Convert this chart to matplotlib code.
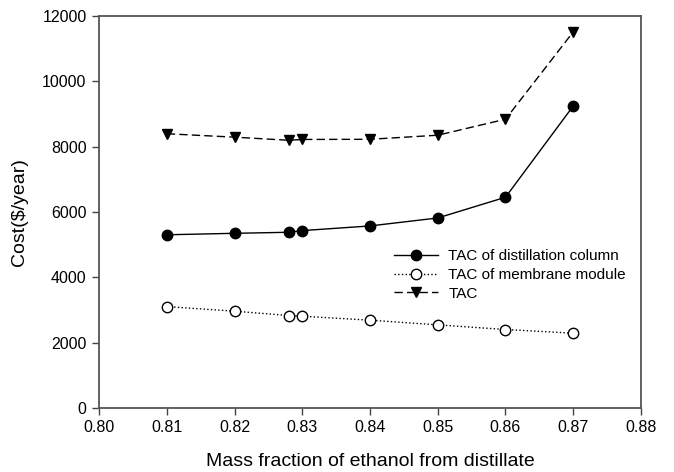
import matplotlib.pyplot as plt

plt.rcParams['font.family'] = ['Liberation Sans', 'DejaVu Sans']

x = [0.81, 0.82, 0.828, 0.83, 0.84, 0.85, 0.86, 0.87]
tac_column = [5300, 5345, 5377, 5428, 5571, 5815, 6450, 9245]
tac_membrane = [3100, 2960, 2826, 2806, 2684, 2541, 2398, 2286]
tac_total = [8395, 8290, 8195, 8220, 8225, 8350, 8840, 11515]

xticks = [0.80, 0.81, 0.82, 0.83, 0.84, 0.85, 0.86, 0.87, 0.88]
yticks = [0, 2000, 4000, 6000, 8000, 10000, 12000]

fig = plt.figure(figsize=(6.74, 4.72), dpi=100)
ax = fig.add_axes([0.147, 0.136, 0.804, 0.830])

ax.plot(x, tac_column, '-', color='k', lw=1, marker='o', ms=7.5,
        label='TAC of distillation column')
ax.plot(x, tac_membrane, ':', color='k', lw=1, marker='o', ms=7.5,
        mfc='white', mec='k', mew=1, label='TAC of membrane module')
ax.plot(x, tac_total, color='k', lw=1, dashes=(6, 3), marker='v', ms=7.5,
        label='TAC')

ax.set_xlim(0.80, 0.88)
ax.set_ylim(0, 12000)
ax.set_xticks(xticks)
ax.set_xticklabels(['%.2f' % v for v in xticks])
ax.set_yticks(yticks)
ax.tick_params(direction='out', length=5, width=1, labelsize=11.5, pad=4,
               color='#444444')
for s in ax.spines.values():
    s.set_color('#555555')
    s.set_linewidth(1.3)

ax.set_xlabel('Mass fraction of ethanol from distillate', fontsize=14, labelpad=13)
ax.set_ylabel('Cost($/year)', fontsize=14, labelpad=10)

ax.legend(loc='upper left', bbox_to_anchor=(0.53, 0.424), frameon=False,
          fontsize=11, handlelength=2.9, handletextpad=0.65, labelspacing=0.3,
          borderpad=0)

fig.savefig('out.png', dpi=100)
